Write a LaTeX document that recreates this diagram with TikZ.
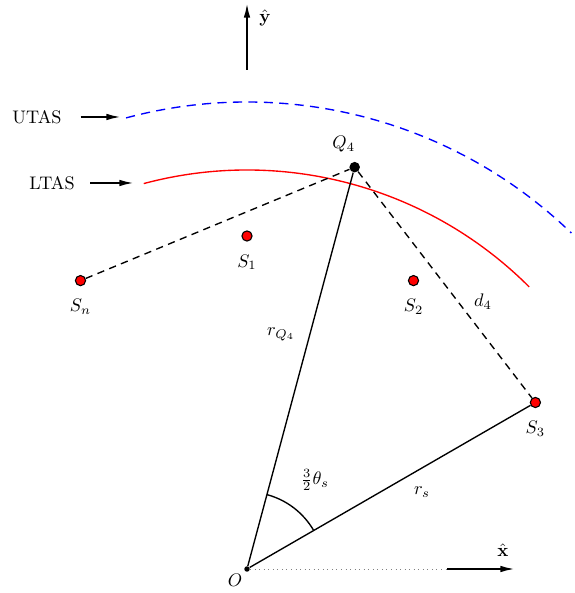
\documentclass[tikz,border=0pt]{standalone}
\usepackage{amsmath,amssymb}
\usetikzlibrary{arrows.meta,positioning,calc}
\begin{document}
\begin{tikzpicture}[x=0.55pt,y=0.55pt,
  spt/.style={circle,draw=black,fill=red,line width=0.6pt,minimum size=5.6pt,inner sep=0pt},
  qpt/.style={circle,fill=black,minimum size=5.8pt,inner sep=0pt},
  opt/.style={circle,fill=black,minimum size=3pt,inner sep=0pt},
  lbl/.style={inner sep=1pt,label distance=6pt},
  ax/.style={-{Latex[length=8pt,width=3.6pt]},line width=1.1pt},
  rad/.style={line width=0.75pt},
  dl/.style={dashed,line width=0.75pt,dash pattern=on 4pt off 3pt}]
\useasboundingbox (-247,-24) rectangle (327,569);
% ---- axes
\node[opt] (o) at (0,0) {};
\node at (-12,-11) {$O$};
\coordinate (xa) at (200,0);
\coordinate (xb) at (268,0);
\draw[dotted,gray,line width=0.5pt] (o) -- (xa);
\draw[ax] (xa) -- (xb);
\node (xh) at (256,19) {$\hat{\mathbf{x}}$};
\coordinate (ya) at (0,499);
\coordinate (yb) at (0,566);
\draw[ax] (ya) -- (yb);
\node (yh) at (18,551) {$\hat{\mathbf{y}}$};
% ---- boundaries
\draw[blue,dashed,line width=0.75pt,dash pattern=on 5pt off 3.5pt] (105:467) arc[start angle=105,end angle=46,radius=467];
\draw[red,line width=0.75pt] (105:399) arc[start angle=105,end angle=45,radius=399];
\node (utas) at (-210,452) {UTAS};
\node (ltas) at (-195,386) {LTAS};
\coordinate (ut) at (-126,452);
\coordinate (lt) at (-113,386);
\draw[ax] ([xshift=7pt]utas.east) -- (ut |- utas.east);
\draw[ax] ([xshift=5pt]ltas.east) -- (lt |- ltas.east);
% ---- sensors and target
\node[spt,label={[lbl]below:$S_1$}] (s1) at (90:333) {};
\node[spt,label={[lbl]below:$S_2$}] (s2) at (60:333) {};
\node[spt,label={[lbl]below:$S_3$}] (s3) at (30:333) {};
\node[spt,label={[lbl]below:$S_n$}] (sn) at (120:333) {};
\node[qpt,label={[lbl,label distance=4pt,xshift=-6pt]above:$Q_4$}] (q4) at (75:416) {};
% ---- ranges
\draw[rad] (o) -- (q4);
\draw[rad] (o) -- (s3);
\draw[dl] (sn) -- (q4);
\draw[dl] (q4) -- (s3);
\draw[rad] (30:77) arc[start angle=30,end angle=75,radius=77];
\node at (34,235) {$r_{Q_4}$};
\node at (175,77) {$r_s$};
\node at (236,267) {$d_4$};
\node at (68,89) {$\frac{3}{2}\theta_s$};
\end{tikzpicture}
\end{document}
